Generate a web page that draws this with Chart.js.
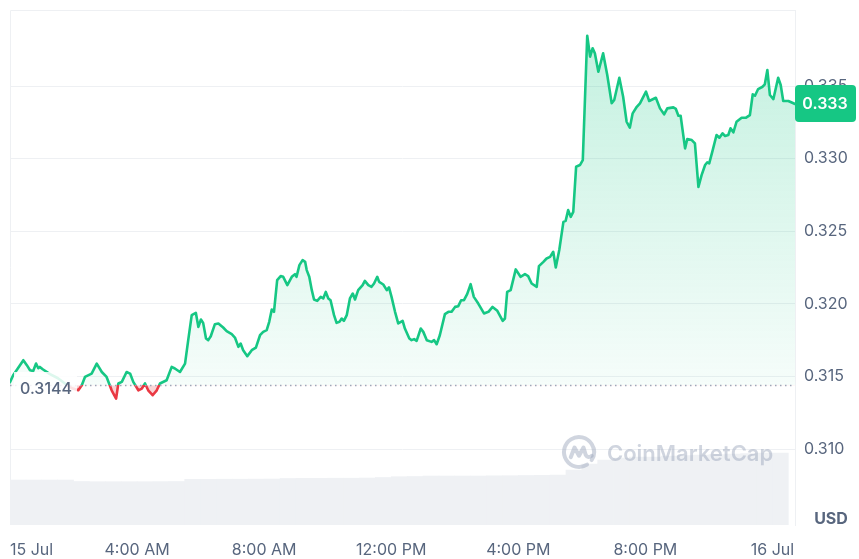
<!DOCTYPE html>
<html>
<head>
<meta charset="utf-8">
<title>Price chart</title>
<script src="https://cdn.jsdelivr.net/npm/chart.js@4.4.1/dist/chart.umd.min.js"></script>
<style>
    html, body { margin: 0; padding: 0; background: #fff; }
    #wrap { width: 859px; height: 559px; position: relative; }
</style>
</head>
<body>
<div id="wrap"><canvas id="priceChart"></canvas></div>
<script>
// Price chart (24h)

// hours since 15 Jul 00:00
const hours = [
    0.00, 0.10, 0.25, 0.42, 0.53, 0.63, 0.73, 0.82, 0.89, 0.94,
    1.03, 1.26, 1.51, 1.76, 1.95, 2.15, 2.26, 2.36, 2.57, 2.73,
    2.89, 3.04, 3.20, 3.34, 3.41, 3.52, 3.67, 3.78, 3.88, 4.04,
    4.15, 4.25, 4.35, 4.49, 4.62, 4.72, 4.93, 5.09, 5.19, 5.35,
    5.51, 5.61, 5.72, 5.85, 5.93, 6.01, 6.08, 6.17, 6.24, 6.32,
    6.45, 6.56, 6.71, 6.82, 6.98, 7.08, 7.19, 7.26, 7.34, 7.47,
    7.61, 7.74, 7.87, 7.97, 8.08, 8.16, 8.24, 8.31, 8.41, 8.52,
    8.60, 8.73, 8.87, 8.97, 9.02, 9.11, 9.21, 9.29, 9.34, 9.42,
    9.50, 9.57, 9.67, 9.78, 9.86, 9.94, 10.02, 10.09, 10.20, 10.28,
    10.37, 10.44, 10.51, 10.60, 10.70, 10.79, 10.86, 10.96, 11.10, 11.17,
    11.28, 11.38, 11.46, 11.56, 11.62, 11.75, 11.86, 11.93, 12.01, 12.12,
    12.22, 12.36, 12.43, 12.57, 12.64, 12.72, 12.80, 12.93, 13.01, 13.12,
    13.27, 13.35, 13.43, 13.53, 13.69, 13.80, 13.90, 14.01, 14.11, 14.20,
    14.29, 14.39, 14.50, 14.60, 14.74, 14.92, 15.06, 15.19, 15.34, 15.51,
    15.58, 15.65, 15.76, 15.92, 16.07, 16.21, 16.31, 16.42, 16.58, 16.65,
    16.79, 16.89, 17.00, 17.10, 17.18, 17.29, 17.42, 17.49, 17.57, 17.65,
    17.73, 17.82, 17.94, 18.03, 18.17, 18.26, 18.34, 18.41, 18.52, 18.67,
    18.80, 18.94, 19.02, 19.18, 19.30, 19.41, 19.51, 19.60, 19.73, 19.83,
    20.02, 20.12, 20.33, 20.46, 20.59, 20.69, 20.88, 20.96, 21.04, 21.11,
    21.25, 21.32, 21.46, 21.56, 21.67, 21.77, 21.88, 21.95, 22.01, 22.12,
    22.24, 22.33, 22.43, 22.51, 22.61, 22.68, 22.77, 22.87, 23.03, 23.17,
    23.29, 23.38, 23.45, 23.55, 23.69, 23.76, 23.84, 23.92, 24.03, 24.18,
    24.26, 24.34, 24.50, 24.66, 24.71
];

// price in USD
const prices = [
    0.31461, 0.31510, 0.31558, 0.31613, 0.31579, 0.31544, 0.31539, 0.31590, 0.31558, 0.31567,
    0.31551, 0.31517, 0.31489, 0.31448, 0.31420, 0.31406, 0.31441, 0.31498, 0.31521, 0.31590,
    0.31532, 0.31498, 0.31406, 0.31349, 0.31453, 0.31464, 0.31532, 0.31521, 0.31464, 0.31406,
    0.31418, 0.31453, 0.31406, 0.31372, 0.31406, 0.31453, 0.31475, 0.31567, 0.31556, 0.31532,
    0.31590, 0.31751, 0.31923, 0.31939, 0.31842, 0.31893, 0.31870, 0.31762, 0.31751, 0.31778,
    0.31861, 0.31866, 0.31838, 0.31813, 0.31792, 0.31769, 0.31705, 0.31728, 0.31682, 0.31641,
    0.31682, 0.31700, 0.31785, 0.31808, 0.31820, 0.31877, 0.31962, 0.31946, 0.32164, 0.32192,
    0.32187, 0.32130, 0.32187, 0.32205, 0.32187, 0.32267, 0.32302, 0.32290, 0.32233, 0.32187,
    0.32095, 0.32031, 0.32021, 0.32049, 0.32038, 0.32083, 0.32038, 0.32026, 0.31923, 0.31870,
    0.31877, 0.31900, 0.31884, 0.31923, 0.32038, 0.32072, 0.32031, 0.32095, 0.32130, 0.32159,
    0.32130, 0.32118, 0.32141, 0.32187, 0.32152, 0.32134, 0.32095, 0.32114, 0.32049, 0.31946,
    0.31866, 0.31884, 0.31831, 0.31762, 0.31751, 0.31758, 0.31746, 0.31831, 0.31808, 0.31751,
    0.31739, 0.31751, 0.31723, 0.31785, 0.31930, 0.31946, 0.31946, 0.31980, 0.31985, 0.32026,
    0.32026, 0.32068, 0.32136, 0.32049, 0.32003, 0.31935, 0.31946, 0.31980, 0.31953, 0.31884,
    0.31900, 0.32083, 0.32095, 0.32238, 0.32187, 0.32205, 0.32192, 0.32141, 0.32118, 0.32260,
    0.32290, 0.32313, 0.32324, 0.32359, 0.32251, 0.32371, 0.32565, 0.32572, 0.32646, 0.32600,
    0.32634, 0.32944, 0.32956, 0.32990, 0.33846, 0.33702, 0.33760, 0.33725, 0.33598, 0.33725,
    0.33576, 0.33381, 0.33404, 0.33557, 0.33426, 0.33254, 0.33213, 0.33312, 0.33357, 0.33381,
    0.33461, 0.33397, 0.33419, 0.33346, 0.33305, 0.33346, 0.33353, 0.33342, 0.33295, 0.33295,
    0.33071, 0.33135, 0.33128, 0.33105, 0.32806, 0.32887, 0.32956, 0.32975, 0.32968, 0.33059,
    0.33163, 0.33144, 0.33174, 0.33156, 0.33163, 0.33209, 0.33181, 0.33254, 0.33282, 0.33282,
    0.33300, 0.33443, 0.33433, 0.33479, 0.33495, 0.33512, 0.33610, 0.33438, 0.33410, 0.33557,
    0.33507, 0.33397, 0.33397, 0.33381, 0.33376
];

// volume bars, one per half hour (arbitrary units, drawn on a hidden axis)
const volHours = [
    0.25, 0.75, 1.25, 1.75, 2.25, 2.75, 3.25, 3.75, 4.25, 4.75,
    5.25, 5.75, 6.25, 6.75, 7.25, 7.75, 8.25, 8.75, 9.25, 9.75,
    10.25, 10.75, 11.25, 11.75, 12.25, 12.75, 13.25, 13.75, 14.25, 14.75,
    15.25, 15.75, 16.25, 16.75, 17.25, 17.75, 18.25, 18.75, 19.25, 19.75,
    20.25, 20.75, 21.25, 21.75, 22.25, 22.75, 23.25, 23.75, 24.25
];
const volumes = [
    45, 45, 45, 45, 43.5, 43.3, 43.3, 43.3, 43.3, 43.4,
    43.5, 45.7, 45.7, 45.8, 45.8, 45.9, 46, 46.5, 46.7, 46.7,
    46.8, 46.8, 47, 47.5, 48.3, 48.5, 49, 49, 49, 49,
    49.2, 49.3, 49.5, 49.7, 50, 55, 61, 65, 67, 68,
    68, 69, 69.5, 70, 70.5, 71, 71.5, 72, 72
];
const volumeAxisMax = 515;

const xTickHours = [0, 4, 8, 12, 16, 20, 24];
const xTickLabels = ['15 Jul', '4:00 AM', '8:00 AM', '12:00 PM', '4:00 PM', '8:00 PM', '16 Jul'];
const yTicks = [0.310, 0.315, 0.320, 0.325, 0.330, 0.335];

const openPrice = 0.3144;
const lastPriceLabel = '0.333';

const GREEN = '#16c784';
const RED = '#ea3943';
const TEXT = '#58667e';
const GRID = '#eef0f3';
const FONT = 'Inter, "Noto Sans", sans-serif';

function lineGradient(chart) {
    const { ctx, chartArea, scales } = chart;
    if (!chartArea || !scales.y) return GREEN;
    const by = scales.y.getPixelForValue(openPrice);
    let stop = (by - chartArea.top) / (chartArea.bottom - chartArea.top);
    stop = Math.min(1, Math.max(0, stop));
    const g = ctx.createLinearGradient(0, chartArea.top, 0, chartArea.bottom);
    g.addColorStop(0, GREEN);
    g.addColorStop(stop, GREEN);
    g.addColorStop(stop, RED);
    g.addColorStop(1, RED);
    return g;
}

function fillGradient(chart) {
    const { ctx, chartArea, scales } = chart;
    if (!chartArea || !scales.y) return 'rgba(22,199,132,0.1)';
    const by = scales.y.getPixelForValue(openPrice);
    const g = ctx.createLinearGradient(0, chartArea.top, 0, by);
    g.addColorStop(0, 'rgba(22,199,132,0.27)');
    g.addColorStop(1, 'rgba(22,199,132,0.04)');
    return g;
}

function drawLogo(ctx, cx, cy, r) {
    ctx.beginPath();
    ctx.arc(cx, cy, r, Math.PI * 0.32, Math.PI * 2.18);
    ctx.stroke();
    ctx.beginPath();
    ctx.moveTo(cx - r * 0.55, cy + r * 0.35);
    ctx.lineTo(cx - r * 0.3, cy - r * 0.3);
    ctx.lineTo(cx, cy + r * 0.25);
    ctx.lineTo(cx + r * 0.3, cy - r * 0.3);
    ctx.lineTo(cx + r * 0.45, cy + r * 0.2);
    ctx.quadraticCurveTo(cx + r * 0.6, cy + r * 0.45, cx + r * 0.85, cy + r * 0.25);
    ctx.stroke();
}

const overlayPlugin = {
    id: 'overlay',
    beforeDatasetsDraw(chart) {
        const { ctx, chartArea: a } = chart;
        // frame on the left and top (right edge comes from the y axis)
        ctx.save();
        ctx.strokeStyle = GRID;
        ctx.lineWidth = 1;
        ctx.beginPath();
        ctx.moveTo(a.left + 0.5, a.bottom);
        ctx.lineTo(a.left + 0.5, a.top + 0.5);
        ctx.lineTo(a.right, a.top + 0.5);
        ctx.stroke();
        ctx.restore();
    },
    afterDatasetsDraw(chart) {
        const { ctx, chartArea: a, scales: { y } } = chart;
        const by = Math.round(y.getPixelForValue(openPrice)) + 0.5;

        ctx.save();
        // dotted open price line
        ctx.strokeStyle = '#9ea6b8';
        ctx.lineWidth = 1.5;
        ctx.setLineDash([1.5, 3.5]);
        ctx.beginPath();
        ctx.moveTo(a.left, by);
        ctx.lineTo(a.right, by);
        ctx.stroke();
        ctx.setLineDash([]);

        // open price label with a soft white backing
        ctx.fillStyle = 'rgba(255,255,255,0.85)';
        ctx.fillRect(a.left + 4, by - 13.5, 63, 28);
        ctx.fillStyle = TEXT;
        ctx.font = '500 16px ' + FONT;
        ctx.textAlign = 'left';
        ctx.textBaseline = 'alphabetic';
        ctx.fillText(String(openPrice), a.left + 10, by + 8);

        // watermark
        ctx.strokeStyle = 'rgba(150,162,184,0.45)';
        ctx.fillStyle = 'rgba(150,162,184,0.45)';
        ctx.lineWidth = 4;
        ctx.lineCap = 'round';
        ctx.lineJoin = 'round';
        drawLogo(ctx, a.right - 216, a.bottom - 73, 15);
        ctx.font = '600 22px ' + FONT;
        ctx.fillText('CoinMarketCap', a.right - 188, a.bottom - 64);
        ctx.restore();
    },
    afterDraw(chart) {
        const { ctx, chartArea: a, scales: { y } } = chart;
        const ly = y.getPixelForValue(prices[prices.length - 1]);

        ctx.save();
        // last price tag
        ctx.fillStyle = GREEN;
        ctx.beginPath();
        ctx.roundRect(a.right, ly - 19, 61, 37, 4);
        ctx.fill();
        ctx.fillStyle = '#fff';
        ctx.font = '600 16px ' + FONT;
        ctx.textAlign = 'center';
        ctx.textBaseline = 'middle';
        ctx.fillText(lastPriceLabel, a.right + 30, ly);

        // currency label
        ctx.fillStyle = TEXT;
        ctx.font = '700 16px ' + FONT;
        ctx.fillText('USD', a.right + 36, a.bottom - 6);
        ctx.restore();
    }
};

const ctx = document.getElementById('priceChart').getContext('2d');

new Chart(ctx, {
    type: 'line',
    data: {
        datasets: [
            {
                type: 'line',
                data: hours.map((h, i) => ({ x: h, y: prices[i] })),
                borderColor: (c) => lineGradient(c.chart),
                backgroundColor: (c) => fillGradient(c.chart),
                fill: { target: { value: openPrice }, below: 'rgba(234,57,67,0.22)' },
                borderWidth: 2.6,
                borderJoinStyle: 'round',
                borderCapStyle: 'round',
                pointRadius: 0,
                tension: 0,
                order: 1
            },
            {
                type: 'bar',
                data: volHours.map((h, i) => ({ x: h, y: volumes[i] })),
                yAxisID: 'yv',
                backgroundColor: '#eff1f4',
                borderWidth: 0,
                barPercentage: 1,
                categoryPercentage: 1,
                order: 2
            }
        ]
    },
    options: {
        responsive: true,
        maintainAspectRatio: false,
        animation: false,
        layout: { padding: { left: 10, top: 10, right: 0, bottom: 0 } },
        plugins: {
            legend: { display: false },
            tooltip: { enabled: false }
        },
        scales: {
            x: {
                type: 'linear',
                min: 0,
                max: hours[hours.length - 1],
                offset: false,
                grid: { display: false },
                border: { display: false },
                afterBuildTicks: (scale) => {
                    scale.ticks = xTickHours.concat([scale.max]).map(v => ({ value: v }));
                },
                afterFit: (scale) => {
                    scale.height = 34;
                    scale.paddingLeft = 0;
                    scale.paddingRight = 0;
                },
                ticks: {
                    align: 'inner',
                    autoSkip: false,
                    maxRotation: 0,
                    padding: 8,
                    color: TEXT,
                    font: { family: FONT, size: 16 },
                    callback: function(value) {
                        const i = xTickHours.indexOf(value);
                        return i >= 0 ? xTickLabels[i] : '';
                    }
                }
            },
            y: {
                type: 'linear',
                position: 'right',
                min: 0.30479,
                max: 0.34023,
                grid: { color: GRID, drawTicks: false },
                border: { display: true, color: GRID },
                afterBuildTicks: (scale) => {
                    scale.ticks = yTicks.map(v => ({ value: v }));
                },
                afterFit: (scale) => {
                    scale.width = 64;
                    scale.paddingTop = 0;
                    scale.paddingBottom = 0;
                },
                ticks: {
                    padding: 9,
                    color: TEXT,
                    font: { family: FONT, size: 16 },
                    callback: function(value) {
                        return value.toFixed(3);
                    }
                }
            },
            yv: {
                type: 'linear',
                display: false,
                min: 0,
                max: volumeAxisMax
            }
        }
    },
    plugins: [overlayPlugin]
});
</script>
</body>
</html>
